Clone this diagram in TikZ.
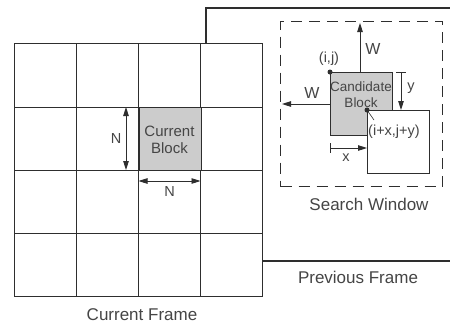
\documentclass[tikz,border=0pt]{standalone}
\usepackage{fontspec}
\setmainfont{Liberation Sans}
\usetikzlibrary{arrows.meta}
\definecolor{ln}{gray}{0.18}
\definecolor{tx}{gray}{0.27}
\definecolor{blk}{gray}{0.8}
\begin{document}
\begin{tikzpicture}[x=1pt,y=-1pt,
 frame/.style={draw=ln, line width=1.3pt},
 gridline/.style={draw=ln, line width=0.8pt},
 blockbox/.style={draw=ln, line width=1.2pt, minimum width=62pt, minimum height=63pt, anchor=north west, inner sep=0pt},
 biglbl/.style={text=tx, font=\fontsize{17}{17}\selectfont, inner sep=0pt},
 smlbl/.style={text=tx, font=\fontsize{14.5}{15}\selectfont, inner sep=0pt, align=center},
 arr/.style={draw=ln, line width=0.9pt, -{Triangle[length=9pt,width=5.5pt]}},
 darr/.style={draw=ln, line width=0.9pt, {Triangle[length=9pt,width=5.5pt]}-{Triangle[length=9pt,width=5.5pt]}},
 tick/.style={draw=ln, line width=0.9pt},
 dot/.style={circle, fill=ln, inner sep=0pt, minimum size=5pt}
]
\useasboundingbox (0,0) rectangle (450,325);
\fill[white] (0,0) rectangle (450,325);
% previous frame
\coordinate (pf1) at (450,8);
\coordinate (pf2) at (206,8);
\coordinate (pf3) at (206,43);
\coordinate (pf4) at (262,261);
\coordinate (pf5) at (450,261);
\draw[frame] (pf1) -- (pf2) -- (pf3);
\draw[frame] (pf4) -- (pf5);
% current frame
\node[frame, fill=white, minimum width=248pt, minimum height=253pt, anchor=north west, inner sep=0pt] (cf) at (14,43) {};
\foreach \gx in {76.5,138.5,200.5} \draw[gridline] (\gx,43) -- (\gx,296);
\foreach \gy in {107,170,233} \draw[gridline] (14,\gy) -- (262,\gy);
\node[blockbox, fill=blk] (cb) at (138.5,107) {};
\node[smlbl, font=\fontsize{15}{16.5}\selectfont] (cbt) at (169.5,140) {Current\\Block};
% N arrows
\coordinate (nv1) at (126,107);
\coordinate (nv2) at (126,170);
\draw[darr] (nv1) -- (nv2);
\node[smlbl] (nvl) at (116,139) {N};
\coordinate (nh1) at (138.5,181);
\coordinate (nh2) at (200.5,181);
\draw[darr] (nh1) -- (nh2);
\node[smlbl] (nhl) at (169.5,192) {N};
% search window
\node[draw=ln, line width=1.2pt, dash pattern=on 11pt off 7pt, minimum width=162pt, minimum height=165pt, anchor=north west, inner sep=0pt] (sw) at (280,21) {};
% candidate block
\node[blockbox, fill=blk] (cand) at (330,72) {};
\node[smlbl, font=\fontsize{13.5}{16}\selectfont] (candt) at (361,94.5) {Candidate\\Block};
% displaced block
\node[blockbox, fill=white] (disp) at (367,110) {};
\node[smlbl, anchor=west] (dispt) at (368,132) {(i+x,j+y)};
% dots
\node[dot] (d1) at (330,72) {};
\node[dot] (d2) at (367,110) {};
\coordinate (lead) at (374,120);
\draw[ln, line width=0.6pt] (d2.center) -- (lead);
\node[smlbl] (ijl) at (329,59) {(i,j)};
% W arrows
\coordinate (wu1) at (360,72);
\coordinate (wu2) at (360,23);
\draw[arr] (wu1) -- (wu2);
\node[smlbl, font=\fontsize{16}{16}\selectfont] (wul) at (373,49) {W};
\coordinate (wl1) at (330,104);
\coordinate (wl2) at (282,104);
\draw[arr] (wl1) -- (wl2);
\node[smlbl, font=\fontsize{16}{16}\selectfont] (wll) at (312,93) {W};
% y arrow
\coordinate (ya) at (401,72);
\coordinate (yb) at (401,110);
\draw[tick] (396,72) -- (406,72);
\draw[arr] (ya) -- (yb);
\node[smlbl] (yl) at (411,88) {y};
% x arrow
\coordinate (xa) at (330,148);
\coordinate (xb) at (367,148);
\draw[tick] (330,143) -- (330,153);
\draw[arr] (xa) -- (xb);
\node[smlbl] (xl) at (346,158) {x};
% labels
\node[biglbl] (swl) at (369,204) {Search Window};
\node[biglbl] (pfl) at (358,277) {Previous Frame};
\node[biglbl] (cfl) at (142,315) {Current Frame};
\end{tikzpicture}
\end{document}
